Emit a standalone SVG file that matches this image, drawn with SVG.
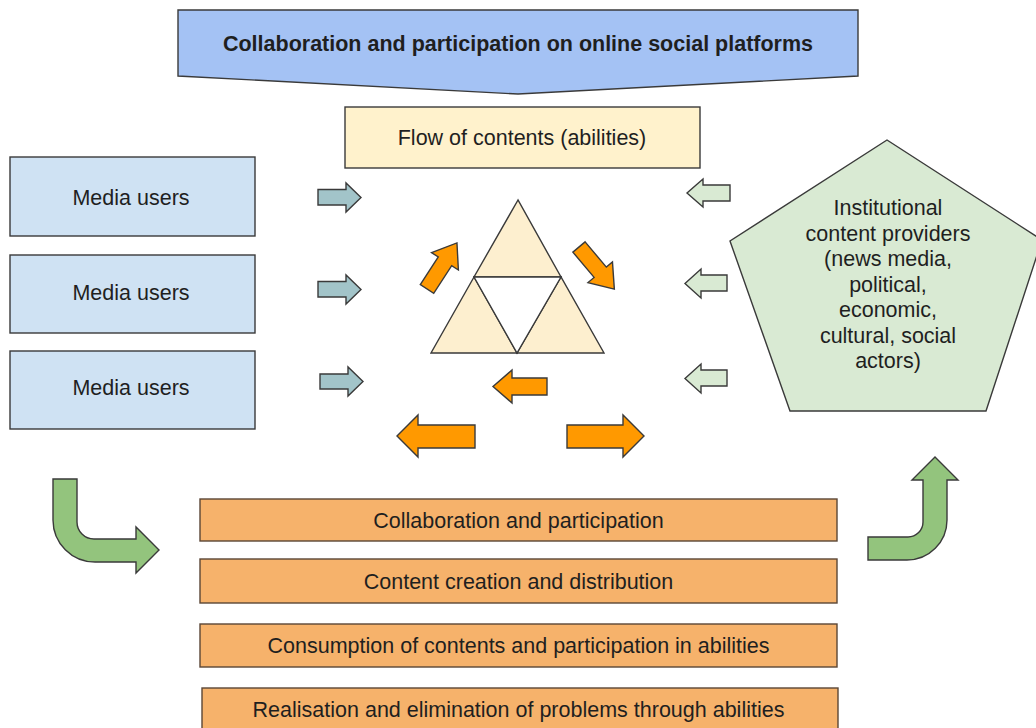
<svg xmlns="http://www.w3.org/2000/svg" width="1036" height="728" viewBox="0 0 1036 728">
<style>
  text { font-family: "Liberation Sans", Arial, sans-serif; font-size: 21.5px; fill: #1f1f1f; text-anchor: middle; }
  .bold { font-weight: bold; }
  .ln { stroke: #3a3a3a; stroke-width: 1.4; stroke-linejoin: miter; }
  .banner { fill: #a4c2f4; }
  .media { fill: #cfe2f3; }
  .flow { fill: #fff2cc; }
  .tri { fill: #fdefcf; }
  .pent { fill: #d9ead3; }
  .barr { fill: #a2c4c9; }
  .garr { fill: #d9ead3; }
  .oarr { fill: #ff9900; }
  .obox { fill: #f6b26b; stroke: #5b4636; }
  .curv { fill: #93c47d; }
</style>
<rect width="1036" height="728" fill="#ffffff"/>

<g id="banner">
  <polygon class="banner ln" points="178,10 858,10 858,76 518,94 178,76"/>
  <text class="bold" x="518" y="51">Collaboration and participation on online social platforms</text>
</g>

<g id="flow">
  <rect class="flow ln" x="345" y="107" width="355" height="61"/>
  <text x="522" y="145">Flow of contents (abilities)</text>
</g>

<g id="media1">
  <rect class="media ln" x="10" y="157" width="245" height="79"/>
  <text x="131" y="205">Media users</text>
</g>
<g id="media2">
  <rect class="media ln" x="10" y="255" width="245" height="78"/>
  <text x="131" y="300">Media users</text>
</g>
<g id="media3">
  <rect class="media ln" x="10" y="351" width="245" height="78"/>
  <text x="131" y="395">Media users</text>
</g>

<g id="triangle">
  <polygon class="tri ln" points="518,200 474,277 561,277"/>
  <polygon class="tri ln" points="474,277 431,353 517,353"/>
  <polygon class="tri ln" points="561,277 517,353 604,353"/>
  <polygon fill="#ffffff" class="ln" points="474,277 561,277 517,353"/>
</g>

<g id="providers">
  <polygon class="pent ln" points="887,140 1042,240 986,411 790,411 730,241"/>
  <text x="888" y="215">Institutional</text>
  <text x="888" y="240.5">content providers</text>
  <text x="888" y="266">(news media,</text>
  <text x="888" y="291.5">political,</text>
  <text x="888" y="317">economic,</text>
  <text x="888" y="342.5">cultural, social</text>
  <text x="888" y="368">actors)</text>
</g>

<g id="stages">
  <g id="stage1">
    <rect class="obox ln" x="200" y="499" width="637" height="42"/>
    <text x="518.5" y="528">Collaboration and participation</text>
  </g>
  <g id="stage2">
    <rect class="obox ln" x="200" y="559" width="637" height="44"/>
    <text x="518.5" y="589">Content creation and distribution</text>
  </g>
  <g id="stage3">
    <rect class="obox ln" x="200" y="624" width="637" height="43"/>
    <text x="518.5" y="653">Consumption of contents and participation in abilities</text>
  </g>
  <g id="stage4">
    <rect class="obox ln" x="202" y="688" width="636" height="44"/>
    <text x="518.5" y="717">Realisation and elimination of problems through abilities</text>
  </g>
</g>

<g id="connectors">
  <!-- blue-grey arrows from media users -->
  <polygon class="barr ln" points="318,189.5 346,189.5 346,183 361,197.5 346,212 346,205 318,205"/>
  <polygon class="barr ln" points="318,281.5 346,281.5 346,275 361,289.5 346,304 346,297 318,297"/>
  <polygon class="barr ln" points="320,374 348,374 348,367 363,381.5 348,396 348,389 320,389"/>
  <!-- green arrows from providers -->
  <polygon class="garr ln" points="730,185 703,185 703,179 687,193 703,207 703,201 730,201"/>
  <polygon class="garr ln" points="727,275 701,275 701,269 685,283.5 701,298 701,291 727,291"/>
  <polygon class="garr ln" points="727,370 701,370 701,364 685,378.5 701,393 701,386 727,386"/>
  <!-- orange cycle arrows -->
  <polygon class="oarr ln" transform="translate(427,289) rotate(-57)" points="0,-8 33,-8 33,-16 55,0 33,16 33,8 0,8"/>
  <polygon class="oarr ln" transform="translate(579,247) rotate(50)" points="0,-8 33,-8 33,-16 55,0 33,16 33,8 0,8"/>
  <polygon class="oarr ln" points="547,378 512,378 512,370 493,386.5 512,403 512,395 547,395"/>
  <polygon class="oarr ln" points="475,425 418,425 418,415 397,436 418,457 418,448 475,448"/>
  <polygon class="oarr ln" points="567,425 623,425 623,415 644,436 623,457 623,448 567,448"/>
  <!-- curved green arrows -->
  <path class="curv ln" d="M53,479 L77,479 L77,522 A17,17 0 0 0 94,539 L136,539 L136,527 L159,550 L136,573 L136,562 L95,562 A42,42 0 0 1 53,520 Z"/>
  <path class="curv ln" d="M868,537 L908,537 A15,15 0 0 0 923,522 L923,480 L912,480 L935,457 L958,480 L947,480 L947,520 A40,40 0 0 1 907,560 L868,560 Z"/>
</g>
</svg>
